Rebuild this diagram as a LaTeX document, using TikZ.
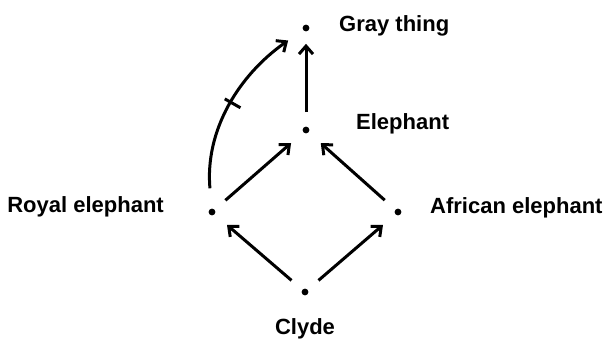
\documentclass[tikz,border=0pt]{standalone}
\usepackage{fontspec}
\setmainfont{Liberation Sans}
\usetikzlibrary{positioning,arrows.meta}

\begin{document}
\begin{tikzpicture}[x=0.5pt, y=-0.5pt,
        dot/.style = {circle, fill, inner sep=0pt, minimum size=3.4pt},
        itemtext/.style = {font=\bfseries\fontsize{11}{13}\selectfont, inner sep=0pt},
        link/.style = {line width=1.5pt, -{Straight Barb[length=4pt,width=7pt]}, shorten >=8pt, shorten <=7pt},
        crossmark/.style = {draw, line width=1.5pt, inner sep=0pt, minimum width=0pt, minimum height=9pt}]
        \useasboundingbox (0,0) rectangle (616,343);

        \node[dot] (clyde) at (305,292) {};
        \node[dot] (royal) [on grid, above left=40pt and 46.5pt of clyde] {};
        \node[dot] (african) [on grid, above right=40pt and 46.5pt of clyde] {};
        \node[dot] (elephant) [on grid, above right=41pt and 47pt of royal] {};
        \node[dot] (gray) [on grid, above=51pt of elephant] {};

        \node[itemtext] (graylabel) [right=14.5pt of gray, yshift=1pt] {Gray thing};
        \node[itemtext] (elephantlabel) [right=23pt of elephant, yshift=3pt] {Elephant};
        \node[itemtext] (royallabel) [left=22pt of royal, yshift=2.5pt] {Royal elephant};
        \node[itemtext] (africanlabel) [right=14pt of african, yshift=2pt] {African elephant};
        \node[itemtext] (clydelabel) [below=11pt of clyde] {Clyde};

        \draw[link] (clyde) -- (royal);
        \draw[link] (clyde) -- (african);
        \draw[link] (royal) -- (elephant);
        \draw[link] (african) -- (elephant);
        \draw[link, shorten >=6pt] (elephant) -- (gray);
        \draw[link, shorten <=10pt, shorten >=9pt] (royal) to[out=95, in=-145]
            node[crossmark, sloped, pos=.52] (cross) {} (gray);
\end{tikzpicture}
\end{document}
